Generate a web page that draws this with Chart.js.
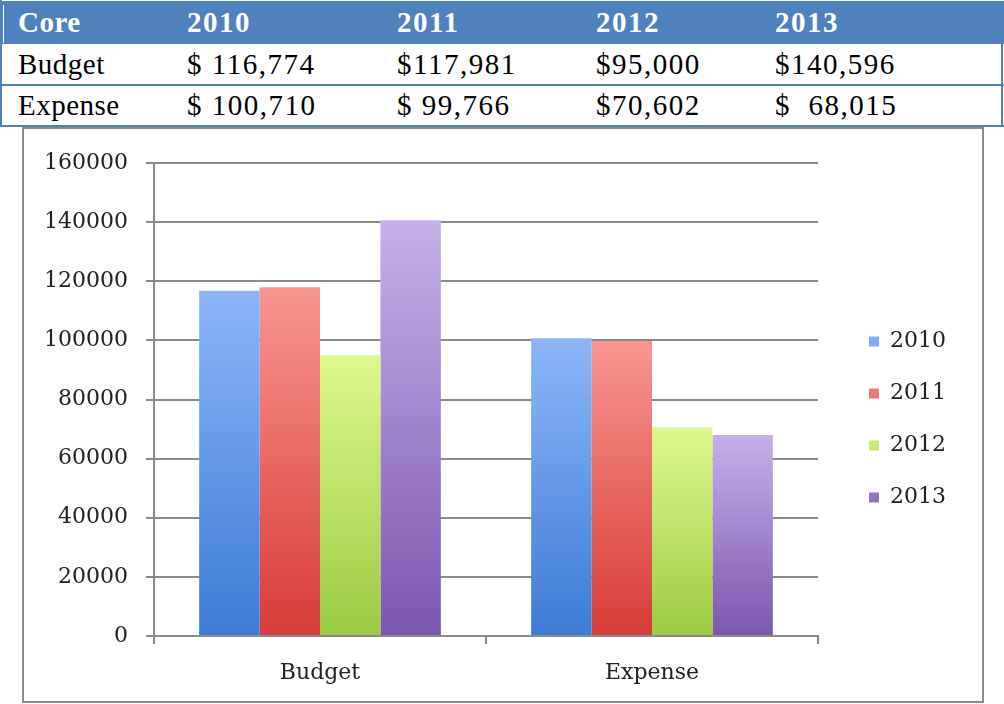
<!DOCTYPE html>
<html>
<head>
<meta charset="utf-8">
<script src="https://cdn.jsdelivr.net/npm/chart.js@4.4.1/dist/chart.umd.min.js"></script>
<style>
  body { margin: 0; background: #fff; width: 1004px; height: 704px; overflow: hidden; position: relative; }
  .tbl { position: absolute; left: 0; top: 0; width: 1004px; height: 127px;
         font-family: "Liberation Serif", "Times New Roman", serif; font-size: 29px; color: #000; }
  .row { position: absolute; left: 0; width: 1004px; display: flex; white-space: pre; }
  .row div { flex: none; }
  .row div.num { letter-spacing: 1.5px; }
  .row div.key { letter-spacing: 0.5px; }
  .head { top: 1px; height: 43px; line-height: 43px; background: #4f81bd; color: #fff; font-weight: bold; }
  .body1 { top: 45px; height: 39px; line-height: 39px; border-bottom: 2px solid #4f81bd; }
  .body2 { top: 86px; height: 39px; line-height: 39px; border-bottom: 2px solid #4f81bd; }
  .edge { position: absolute; background: #4f81bd; }
  .box { position: absolute; left: 22px; top: 127px; width: 958px; height: 572px;
         border: 2px solid #8a8a8a; background: #fff; }
  #chart { display: block; filter: blur(0.4px); }
</style>
</head>
<body>
<div class="tbl" id="tbl"></div>
<div class="box"><canvas id="chart" width="958" height="572"></canvas></div>
<script>
const categories = ["Budget", "Expense"];
const years = ["2010", "2011", "2012", "2013"];
const budget = [116774, 117981, 95000, 140596];
const expense = [100710, 99766, 70602, 68015];
const yTicks = [0, 20000, 40000, 60000, 80000, 100000, 120000, 140000, 160000];

// cell text as printed in the table
const headRow = ["Core", "2010", "2011", "2012", "2013"];
const budgetRow = ["Budget", "$ 116,774", "$117,981", "$95,000", "$140,596"];
const expenseRow = ["Expense", "$ 100,710", "$ 99,766", "$70,602", "$  68,015"];

const topColors = ["#8cb6f8", "#f99590", "#def98f", "#c7b0ea"];
const bottomColors = ["#3c7bd5", "#d73b37", "#9bcb42", "#7b56ae"];
const keyColors = ["#4a86da", "#e0484a", "#a8d44e", "#8e6cc0"];

// table
const colWidths = [187, 210, 199, 179, 229];
const tbl = document.getElementById("tbl");
function addRow(cls, cells) {
  const r = document.createElement("div");
  r.className = "row " + cls;
  cells.forEach((t, i) => {
    const c = document.createElement("div");
    c.className = i === 0 ? "key" : "num";
    c.style.width = (i === 0 ? colWidths[i] - 18 : colWidths[i]) + "px";
    if (i === 0) c.style.paddingLeft = "18px";
    c.textContent = t;
    r.appendChild(c);
  });
  tbl.appendChild(r);
}
addRow("head", headRow);
addRow("body1", budgetRow);
addRow("body2", expenseRow);
tbl.insertAdjacentHTML("beforeend",
  '<div class="edge" style="left:0;top:0;width:2px;height:127px"></div>' +
  '<div class="edge" style="left:1001px;top:44px;width:2px;height:83px"></div>' +
  '<div style="position:absolute;left:3px;top:5px;width:1px;height:38px;background:#fff"></div>');

// chart
function barFill(ctx) {
  const i = ctx.datasetIndex;
  if (ctx.type !== "data" || !ctx.chart.chartArea) return keyColors[i];
  const y = ctx.chart.scales.y;
  const g = ctx.chart.ctx.createLinearGradient(0, y.getPixelForValue(ctx.raw), 0, y.getPixelForValue(0));
  g.addColorStop(0, topColors[i]);
  g.addColorStop(1, bottomColors[i]);
  return g;
}

const labelFont = { family: "DejaVu Serif", size: 22 };
const textColor = "#222";

// empty axis used only to reserve space
const spacer = (position, size) => ({
  type: "linear", position, display: true,
  grid: { display: false }, border: { display: false }, ticks: { display: false },
  afterFit: s => { if (s.isHorizontal()) s.height = size; else s.width = size; }
});

new Chart(document.getElementById("chart"), {
  type: "bar",
  data: {
    labels: categories,
    datasets: years.map((yr, i) => ({
      label: yr,
      data: [budget[i], expense[i]],
      backgroundColor: barFill,
      borderWidth: 0,
      categoryPercentage: 0.728,
      barPercentage: 1
    }))
  },
  options: {
    responsive: false,
    animation: false,
    layout: { padding: { left: 10, right: 26, top: 24, bottom: 15 } },
    plugins: {
      tooltip: { enabled: false },
      legend: {
        position: "right",
        labels: { boxWidth: 10, boxHeight: 10, padding: 30, color: textColor, font: labelFont }
      }
    },
    scales: {
      x: {
        grid: { drawOnChartArea: false, tickLength: 8, color: "#8a8a8a", lineWidth: 2 },
        border: { color: "#8a8a8a", width: 2 },
        ticks: { color: textColor, font: labelFont, padding: 16 },
        afterFit: s => { s.height = 50; }
      },
      y: {
        min: 0, max: 160000,
        afterBuildTicks: s => { s.ticks = yTicks.map(v => ({ value: v })); },
        grid: { color: "#8a8a8a", lineWidth: 2, tickLength: 8 },
        border: { color: "#8a8a8a", width: 2 },
        ticks: { color: textColor, font: labelFont, padding: 18, callback: v => String(v) },
        afterFit: s => { s.width = 120; }
      },
      gapTop: spacer("top", 10),
      gapRight: spacer("right", 21)
    }
  }
});
</script>
</body>
</html>
